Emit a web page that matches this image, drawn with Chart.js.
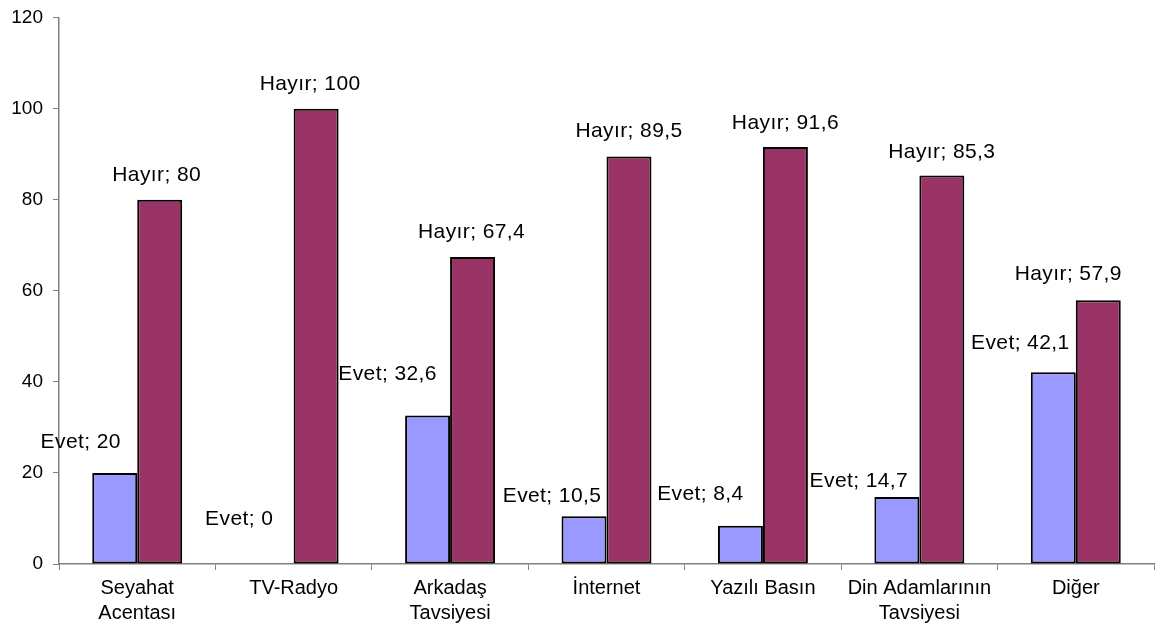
<!DOCTYPE html>
<html>
<head>
<meta charset="utf-8">
<script src="https://cdn.jsdelivr.net/npm/chart.js@4"></script>
<style>
  html, body { margin: 0; padding: 0; background: #ffffff; }
  #wrap { width: 1162px; height: 631px; }
</style>
</head>
<body>
<div id="wrap"><canvas id="c" width="1162" height="631"></canvas></div>
<script>
const categories = [
  ["Seyahat", "Acentası"],
  "TV-Radyo",
  ["Arkadaş", "Tavsiyesi"],
  "İnternet",
  "Yazılı Basın",
  ["Din Adamlarının", "Tavsiyesi"],
  "Diğer"
];
const seriesNames = ["Evet", "Hayır"];
const evetValues = [20, 0, 32.6, 10.5, 8.4, 14.7, 42.1];
const hayirValues = [80, 100, 67.4, 89.5, 91.6, 85.3, 57.9];
const yTicks = [0, 20, 40, 60, 80, 100, 120];

// label placement tweaks (pixels relative to bar top centre), as in the original
const labelShift = {
  0: [[-34, -31], [-32, -45], [-40, -41], [-32, -20], [-40, -32], [-38, -16], [-33, -29]],
  1: [[-3, -25], [-6, -24], [-1, -25], [0, -25], [0, -24], [0, -23], [-30, -26]]
};

const fmt = v => String(v).replace('.', ',');
const FONT = '"Liberation Sans", Arial, sans-serif';

const labelPlugin = {
  id: 'barLabels',
  afterDatasetsDraw(chart) {
    const ctx = chart.ctx;
    ctx.save();
    ctx.font = '21px ' + FONT;
    if ('letterSpacing' in ctx) ctx.letterSpacing = '0.4px';
    ctx.fillStyle = '#000';
    ctx.textAlign = 'center';
    ctx.textBaseline = 'middle';
    chart.data.datasets.forEach((ds, di) => {
      const meta = chart.getDatasetMeta(di);
      meta.data.forEach((bar, i) => {
        const sh = labelShift[di][i];
        ctx.fillText(ds.label + '; ' + fmt(ds.data[i]), bar.x + sh[0], bar.y + sh[1]);
      });
    });
    ctx.restore();
  }
};

new Chart(document.getElementById('c'), {
  type: 'bar',
  data: {
    labels: categories,
    datasets: [
      { label: seriesNames[0], data: evetValues, backgroundColor: '#9999FF', borderColor: '#000', borderWidth: 2, borderSkipped: false },
      { label: seriesNames[1], data: hayirValues, backgroundColor: '#993366', borderColor: '#000', borderWidth: 2, borderSkipped: false }
    ]
  },
  options: {
    responsive: false,
    animation: false,
    devicePixelRatio: 1,
    layout: { padding: { top: 0, right: 8, bottom: 0, left: 0 } },
    plugins: { legend: { display: false }, tooltip: { enabled: false } },
    datasets: { bar: { barPercentage: 1, categoryPercentage: 0.575 } },
    scales: {
      x: {
        afterFit: axis => { axis.height = 67; },
        grid: { display: true, drawOnChartArea: false, offset: true, tickLength: 6, color: '#808080', lineWidth: 1 },
        border: { color: '#808080', width: 1.5 },
        ticks: { color: '#000', font: { family: FONT, size: 20, lineHeight: 1.25 }, padding: 6, maxRotation: 0, autoSkip: false }
      },
      y: {
        min: 0, max: 120,
        afterBuildTicks: axis => { axis.ticks = yTicks.map(v => ({ value: v })); },
        afterFit: axis => { axis.width = 59; },
        grid: { display: true, drawOnChartArea: false, tickLength: 6, color: '#808080', lineWidth: 1 },
        border: { color: '#808080', width: 1.5 },
        ticks: { color: '#000', font: { family: FONT, size: 19, lineHeight: 0.8 }, padding: 10 }
      }
    }
  },
  plugins: [labelPlugin]
});
</script>
</body>
</html>
